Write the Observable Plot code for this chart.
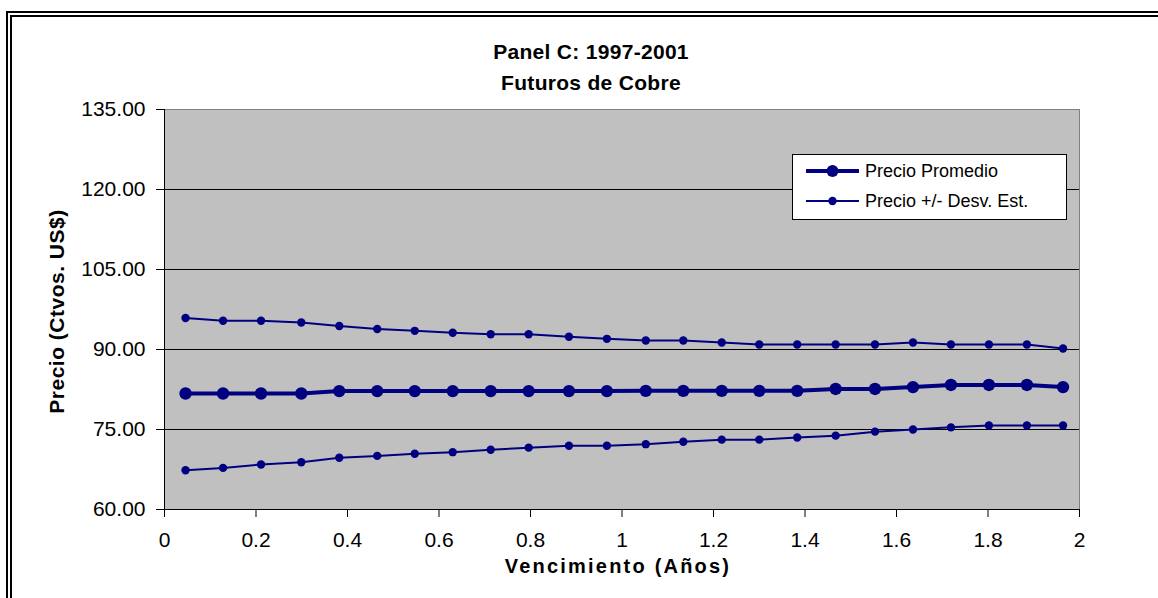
<!DOCTYPE html>
<html>
<head>
<meta charset="utf-8">
<script src="https://cdn.jsdelivr.net/npm/d3@7"></script>
<script src="https://cdn.jsdelivr.net/npm/@observablehq/plot@0.6"></script>
<style>
  html, body { margin: 0; padding: 0; background: #fff; }
  #wrap { position: relative; width: 1158px; height: 598px; overflow: hidden;
          font-family: Arial, "Liberation Sans", sans-serif; }
  #frame { position: absolute; left: 6px; top: 11px; right: -10px; bottom: -10px;
           border-top: 6px double #000; border-left: 6px double #000; pointer-events: none; }
  #legend { position: absolute; left: 792px; top: 154px; width: 275px; height: 66px;
            background: #fff; border: 1px solid #000; box-sizing: border-box; }
  .item { position: absolute; left: 13px; display: flex; align-items: center; height: 24px;
          font-size: 18px; color: #000; white-space: nowrap; }
  .item svg { margin-right: 6px; }
</style>
</head>
<body>
<div id="wrap">
  <div id="chart"></div>
  <div id="frame"></div>
  <div id="legend"></div>
</div>
<script>
// Vencimiento de los contratos (años)
const maturity = [0.046, 0.128, 0.211, 0.299, 0.382, 0.465, 0.547, 0.630,
                  0.713, 0.796, 0.884, 0.967, 1.052, 1.134, 1.218, 1.300,
                  1.383, 1.467, 1.553, 1.636, 1.719, 1.802, 1.885, 1.964];
// Precio promedio (centavos US$)
const promedio = [81.75, 81.75, 81.75, 81.75, 82.2, 82.2, 82.2, 82.2,
                  82.2, 82.2, 82.2, 82.2, 82.25, 82.25, 82.25, 82.25,
                  82.25, 82.6, 82.6, 82.95, 83.35, 83.35, 83.35, 82.95];
// Precio + desviación estándar
const desvSup = [95.9, 95.4, 95.4, 95.05, 94.4, 93.85, 93.5, 93.15,
                 92.85, 92.85, 92.4, 92.0, 91.7, 91.7, 91.3, 90.95,
                 90.95, 90.95, 90.95, 91.3, 90.95, 90.95, 90.95, 90.2];
// Precio - desviación estándar
const desvInf = [67.35, 67.8, 68.45, 68.85, 69.7, 70.05, 70.45, 70.75,
                 71.2, 71.6, 71.95, 71.95, 72.25, 72.7, 73.1, 73.1,
                 73.5, 73.85, 74.6, 75.0, 75.4, 75.75, 75.75, 75.75];

const yTicks = [60, 75, 90, 105, 120, 135];
const xTicks = [0, 0.2, 0.4, 0.6, 0.8, 1, 1.2, 1.4, 1.6, 1.8, 2];
const gridLines = [75, 90, 105, 120];

const titleText = "Panel C: 1997-2001\nFuturos de Cobre";
const xLabel = "Vencimiento (Años)";
const yLabel = "Precio (Ctvos. US$)";
const seriesNames = ["Precio Promedio", "Precio +/- Desv. Est."];

const navy = "#000080";
const toRows = vals => maturity.map((x, i) => ({x, y: vals[i]}));
const rowsProm = toRows(promedio);
const rowsSup = toRows(desvSup);
const rowsInf = toRows(desvInf);

const chart = Plot.plot({
  width: 1158,
  height: 598,
  marginLeft: 164,
  marginRight: 79,
  marginTop: 109,
  marginBottom: 89,
  style: {fontFamily: "Arial, 'Liberation Sans', sans-serif", fontSize: "21px", background: "transparent", color: "#000"},
  x: {domain: [0, 2]},
  y: {domain: [60, 135]},
  marks: [
    Plot.frame({fill: "#c0c0c0", stroke: "#808080"}),
    Plot.ruleY(gridLines, {stroke: "#000", strokeWidth: 1}),
    Plot.ruleX([0], {stroke: "#000"}),
    Plot.ruleY([60], {stroke: "#000"}),
    Plot.axisY({ticks: yTicks, tickFormat: d => d.toFixed(2), tickSize: 8, tickPadding: 11,
                label: null, fontSize: 21}),
    Plot.axisX({ticks: xTicks, tickFormat: d => String(d), tickSize: 8, tickPadding: 15,
                label: null, fontSize: 21}),
    // bandas de +/- una desviación estándar
    Plot.line(rowsSup, {x: "x", y: "y", stroke: navy, strokeWidth: 2}),
    Plot.dot(rowsSup, {x: "x", y: "y", r: 4.2, fill: navy}),
    Plot.line(rowsInf, {x: "x", y: "y", stroke: navy, strokeWidth: 2}),
    Plot.dot(rowsInf, {x: "x", y: "y", r: 4.2, fill: navy}),
    // precio promedio
    Plot.line(rowsProm, {x: "x", y: "y", stroke: navy, strokeWidth: 4}),
    Plot.dot(rowsProm, {x: "x", y: "y", r: 6.2, fill: navy}),
    // títulos
    Plot.text([titleText], {frameAnchor: "top", lineAnchor: "middle", textAnchor: "middle",
                            dx: -31, dy: -44.5, lineHeight: 1.476,
                            fontWeight: "bold", fontSize: 21, fill: "#000"}),
    Plot.text([xLabel], {frameAnchor: "bottom", lineAnchor: "middle", textAnchor: "middle",
                         dx: -4, dy: 57, fontWeight: "bold", fontSize: 20, fill: "#000"}),
    Plot.text([yLabel], {frameAnchor: "left", lineAnchor: "middle", textAnchor: "middle",
                         dx: -107, dy: 2, rotate: -90,
                         fontWeight: "bold", fontSize: 21, fill: "#000"})
  ]
});
document.getElementById("chart").appendChild(chart);

// espaciado de letras de los rótulos en negrita
const spacing = new Map([[xLabel, "2.2px"], [yLabel, "0.5px"], ["Panel C: 1997-2001", "0.3px"], ["Futuros de Cobre", "0.3px"]]);
d3.select(chart).selectAll("text, tspan").each(function() {
  const s = spacing.get(this.textContent);
  if (s) this.setAttribute("letter-spacing", s);
});

// Leyenda
const legend = document.getElementById("legend");
const swatches = [{w: 4, r: 6}, {w: 2, r: 4.2}];
seriesNames.forEach((name, i) => {
  const item = document.createElement("div");
  item.className = "item";
  item.style.top = (4 + i * 30) + "px";
  const s = swatches[i];
  item.innerHTML =
    `<svg width="53" height="16"><line x1="0" x2="53" y1="8" y2="8" stroke="${navy}" stroke-width="${s.w}"/>` +
    `<circle cx="26.5" cy="8" r="${s.r}" fill="${navy}"/></svg><span>${name}</span>`;
  legend.appendChild(item);
});
</script>
</body>
</html>
